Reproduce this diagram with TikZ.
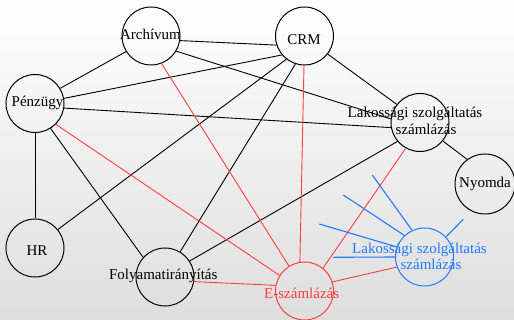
\documentclass[tikz,border=0pt]{standalone}
\usepackage{fontspec}
\setmainfont{Liberation Serif}
\definecolor{bgbot}{RGB}{222,222,222}
\definecolor{ered}{RGB}{255,62,62}
\definecolor{sblue}{RGB}{34,122,255}
\tikzset{
  nd/.style={circle, draw=black, line width=1pt, minimum size=58pt, inner sep=0pt},
  rnd/.style={nd, draw=ered},
  bnd/.style={nd, draw=sblue},
  lbl/.style={anchor=base, inner sep=0pt, font=\fontsize{15}{18}\selectfont},
  edge/.style={draw=black, line width=0.9pt},
  redge/.style={draw=ered, line width=0.9pt},
  bedge/.style={draw=sblue, line width=1.1pt}
}
\begin{document}
\begin{tikzpicture}[x=1pt,y=-1pt]
\shade[top color=white, bottom color=bgbot] (0,0) rectangle (514,320);
\useasboundingbox (0,0) rectangle (514,320);
% nodes
\node[nd] (A) at (151,36) {};
\node[nd] (C) at (304.5,36) {};
\node[nd] (P) at (35,103.5) {};
\node[nd] (L) at (420,122.5) {};
\node[nd, minimum size=60pt] (N) at (485,184) {};
\node[nd] (H) at (35,248) {};
\node[nd] (F) at (165,277) {};
\node[rnd] (E) at (304.5,291) {};
\node[bnd] (B) at (424.5,257) {};
% free ends of blue stubs
\coordinate (s1) at (372.3,175);
\coordinate (s2) at (343.3,195);
\coordinate (s3) at (319.3,224);
\coordinate (s4) at (333.3,257.3);
\coordinate (s5) at (463.3,219.3);
% black edges
\draw[edge] (A.-9.8) -- (C.-162.6);
\draw[edge] (A.-148.9) -- (P.31.3);
\draw[edge] (A.-31) -- (L.173.5);
\draw[edge] (P.10.4) -- (C.-140.8);
\draw[edge] (P.-9.6) -- (L.-170.6);
\draw[edge] (P.-90) -- (H.90);
\draw[edge] (P.-58.8) -- (F.138.9);
\draw[edge] (H.39.2) -- (C.-128.3);
\draw[edge] (F.59.3) -- (C.-108.1);
\draw[edge] (F.33.1) -- (L.-140.5);
\draw[edge] (C.-38.6) -- (L.142.4);
\draw[edge] (L.-39.1) -- (N.126.8);
% red edges
\draw[redge] (E.148) -- (P.-45.7);
\draw[redge] (E.122) -- (A.-69.4);
\draw[redge] (E.99) -- (C.-91);
\draw[redge] (E.51.6) -- (L.-119);
\draw[redge] (E.169.8) -- (F.-9.4);
\draw[redge] (E.18.7) -- (B.-160.8);
% blue stubs
\draw[bedge] (B.115.2) -- (s1);
\draw[bedge] (B.133.2) -- (s2);
\draw[bedge] (B.160.8) -- (s3);
\draw[bedge] (B.180) -- (s4);
\draw[bedge] (B.43.9) -- (s5);
% labels
\node[lbl] (tA) at (150.5,40) {Archívum};
\node[lbl] (tC) at (304,45) {CRM};
\node[lbl] (tP) at (37.5,107) {Pénzügy};
\node[lbl] (tL1) at (415,118) {Lakossági szolgáltatás};
\node[lbl] (tL2) at (426,135) {számlázás};
\node[lbl] (tN) at (485,188) {Nyomda};
\node[lbl] (tH) at (37,255.5) {HR};
\node[lbl] (tF) at (163.3,280) {Folyamatirányítás};
\node[lbl, text=ered] (tE) at (301.7,298.3) {E-számlázás};
\node[lbl, text=sblue] (tB1) at (419.5,253.3) {Lakossági szolgáltatás};
\node[lbl, text=sblue] (tB2) at (431,270) {számlázás};
\end{tikzpicture}
\end{document}
